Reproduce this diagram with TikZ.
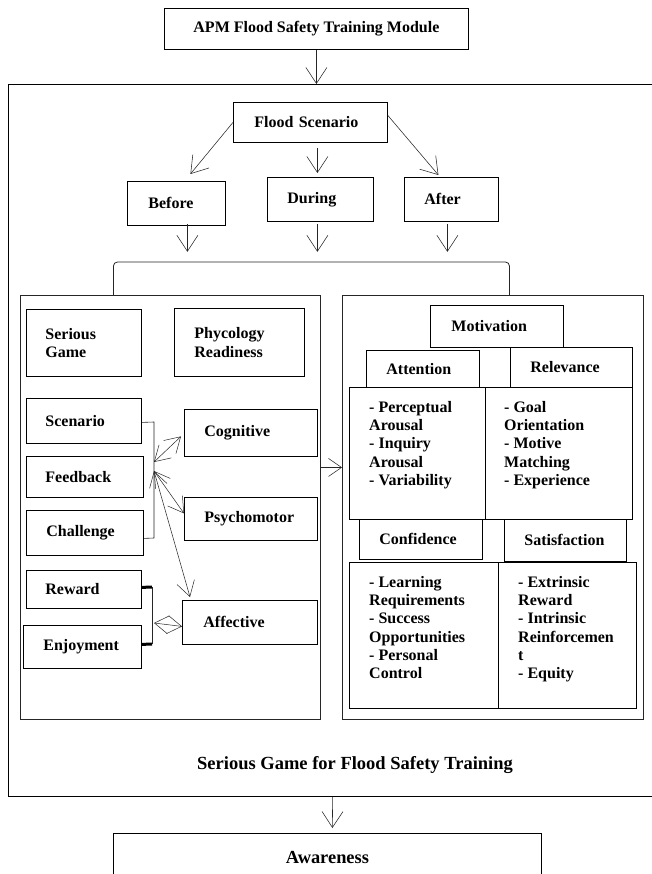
\documentclass[tikz,border=0pt]{standalone}
\usepackage{fontspec}
\setmainfont{Liberation Serif}
\usetikzlibrary{arrows.meta}
\begin{document}
\begin{tikzpicture}[x=1pt,y=-1pt,
  bx/.style={draw=black, line width=0.8pt, rectangle, inner ysep=0pt, font=\bfseries\fontsize{16}{18.3}\selectfont, align=left, anchor=north west},
  cont/.style={draw=black!85, line width=0.9pt, rectangle, inner sep=0pt, anchor=north west},
  txt/.style={inner sep=0pt, font=\bfseries\fontsize{16}{18.3}\selectfont, align=left},
  ln/.style={draw=black!85, line width=0.6pt},
  thk/.style={draw=black, line width=3pt},
  arr/.style={draw=black!85, line width=0.55pt, -{Straight Barb[length=16pt,width=21pt]}},
  arrs/.style={draw=black!85, line width=0.55pt, -{Straight Barb[length=13pt,width=18pt]}},
  darr/.style={draw=black!85, line width=0.5pt, {Straight Barb[length=15pt,width=18pt]}-{Straight Barb[length=15pt,width=18pt]}},
  darrs/.style={draw=black!85, line width=0.5pt, {Straight Barb[length=14pt,width=18pt]}-{Straight Barb[length=14pt,width=18pt]}},
]
\useasboundingbox (0,0) rectangle (652,874);

% top
\node[bx, minimum width=304pt, minimum height=41pt] (apm) at (164,8) {APM Flood Safety Training Module};
\node[cont, line width=1.2pt, draw=black, minimum width=660pt, minimum height=712pt] (outer) at (8,84) {};

\node[bx, minimum width=154pt, minimum height=40pt, inner xsep=21pt, text width=112pt] (flood) at (233,102) {Flood Scenario};
\node[bx, minimum width=98pt, minimum height=44pt, inner xsep=21pt, text width=56pt] (before) at (127,181) {Before};
\node[bx, minimum width=106pt, minimum height=44pt, inner xsep=20pt, text width=66pt] (during) at (267,177) {During};
\node[bx, minimum width=94pt, minimum height=44pt, inner xsep=20pt, text width=54pt] (after) at (404,177) {After};

% inner containers
\node[cont, minimum width=300pt, minimum height=424pt] (lbox) at (20,295) {};
\node[cont, minimum width=301pt, minimum height=424pt] (rbox) at (342,295) {};

% left box contents
\node[bx, minimum width=115pt, minimum height=67pt, inner xsep=19pt, text width=77pt] (sgame) at (26,309) {Serious\\Game};
\node[bx, minimum width=130pt, minimum height=68pt, inner xsep=20pt, text width=90pt] (phyc) at (174,308) {Phycology\\Readiness};
\node[bx, minimum width=115pt, minimum height=45pt, inner xsep=19pt, text width=77pt] (scen) at (26,398) {Scenario};
\node[bx, minimum width=117pt, minimum height=41pt, inner xsep=19pt, text width=79pt] (feed) at (26,456) {Feedback};
\node[bx, minimum width=117pt, minimum height=45pt, inner xsep=20pt, text width=77pt] (chal) at (26,510) {Challenge};
\node[bx, minimum width=115pt, minimum height=38pt, inner xsep=19pt, text width=77pt] (rew) at (26,570) {Reward};
\node[bx, minimum width=118pt, minimum height=43pt, inner xsep=20pt, text width=78pt] (enj) at (23,625) {Enjoyment};
\node[bx, minimum width=133pt, minimum height=47pt, inner xsep=20pt, text width=93pt] (cog) at (184,409) {Cognitive};
\node[bx, minimum width=133pt, minimum height=43pt, inner xsep=20pt, text width=93pt] (psy) at (184,497) {Psychomotor};
\node[bx, minimum width=135pt, minimum height=44pt, inner xsep=21pt, text width=93pt] (aff) at (182,600) {Affective};

% right box contents
\node[bx, minimum width=133pt, minimum height=42pt, inner xsep=21pt, text width=91pt] (mot) at (430,305) {Motivation};
\node[bx, minimum width=113pt, minimum height=37pt, inner xsep=20pt, text width=73pt] (att) at (366,350) {Attention};
\node[bx, minimum width=122pt, minimum height=40pt, inner xsep=20pt, text width=82pt] (rel) at (510,347) {Relevance};
\node[cont, draw=black, line width=0.8pt, minimum width=136pt, minimum height=132pt] (attb) at (349,387) {};
\node[cont, draw=black, line width=0.8pt, minimum width=147pt, minimum height=132pt] (relb) at (485,387) {};
\node[bx, minimum width=123pt, minimum height=40pt, inner xsep=20pt, text width=83pt] (conf) at (359,519) {Confidence};
\node[bx, minimum width=122pt, minimum height=42pt, inner xsep=20pt, text width=82pt] (sat) at (504,519) {Satisfaction};
\node[cont, draw=black, line width=0.8pt, minimum width=149pt, minimum height=146pt] (confb) at (349,562) {};
\node[cont, draw=black, line width=0.8pt, minimum width=138pt, minimum height=146pt] (satb) at (498,562) {};

\node[txt, anchor=north west] (attt) at (369,401) {- Perceptual\\Arousal\\- Inquiry\\Arousal\\- Variability};
\node[txt, anchor=north west] (relt) at (504,401) {- Goal\\Orientation\\- Motive\\Matching\\- Experience};
\node[txt, anchor=north west] (conft) at (369,576) {- Learning\\Requirements\\- Success\\Opportunities\\- Personal\\Control};
\node[txt, anchor=north west] (satt) at (518,576) {- Extrinsic\\Reward\\- Intrinsic\\Reinforcemen\\t\\- Equity};

% title and bottom
\node[txt, font=\bfseries\fontsize{18.5}{22}\selectfont] (title) at (355,765) {Serious Game for Flood Safety Training};
\node[bx, font=\bfseries\fontsize{18.4}{22}\selectfont, minimum width=428pt, minimum height=48pt] (aware) at (113,833) {Awareness};

% connectors (top)
\draw[arr] (apm.south) -- (apm.south |- outer.north);
\draw[arr] (flood.west) -- ([xshift=14pt,yshift=7pt]before.north);
\draw[arr] ([xshift=7pt,yshift=-5pt]flood.south) -- ([xshift=-3pt,yshift=4pt]during.north);
\draw[arr] ([yshift=7pt]flood.east) -- ([xshift=-13pt,yshift=2pt]after.north);
\draw[arr] ([xshift=11pt,yshift=2pt]before.south) -- ++(0,28);
\draw[arr] ([xshift=-3pt,yshift=-2pt]during.south) -- ++(0,28);
\draw[arr] ([xshift=-4pt,yshift=-2pt]after.south) -- ++(0,28);

% big bracket
\draw[ln, line width=0.8pt, rounded corners=4pt] ([xshift=-57pt]lbox.north) |- (311,262) -| ([xshift=16.5pt]rbox.north);

% left-right arrow
\draw[arrs] ([yshift=40pt]lbox.east) -- ([yshift=40pt]rbox.west);

% bottom arrow
\draw[arr] ([xshift=-6pt]outer.south) -- ([xshift=5pt,yshift=5pt]aware.north);

% scenario/feedback/challenge bracket
\coordinate (bt) at (154,422);
\coordinate (bb) at (154,538);
\coordinate (bc1) at (154,462);
\coordinate (bc2) at (154,471);
\draw[ln] ([yshift=-1.5pt]scen.east) -- (bt) -- (bb) -- ([yshift=-5.5pt]chal.east);
\draw[darr] (bc1) -- ([xshift=-3pt,yshift=-3.5pt]cog.west);
\draw[darr] (bc2) -- ([yshift=5.5pt]psy.west);
\draw[darr] (bc2) -- ([xshift=8pt,yshift=3pt]aff.north west);

% reward/enjoyment bracket
\coordinate (rt) at (152,587);
\coordinate (rb) at (152,644);
\coordinate (rm) at (154,623);
\draw[thk] ([yshift=2pt]rew.east) -- (rt);
\draw[ln] (rt) -- (rb);
\draw[thk] ([yshift=2.5pt]enj.east) -- (rb);
\draw[darrs] (rm) -- ([yshift=-4pt]aff.west);
\end{tikzpicture}
\end{document}
